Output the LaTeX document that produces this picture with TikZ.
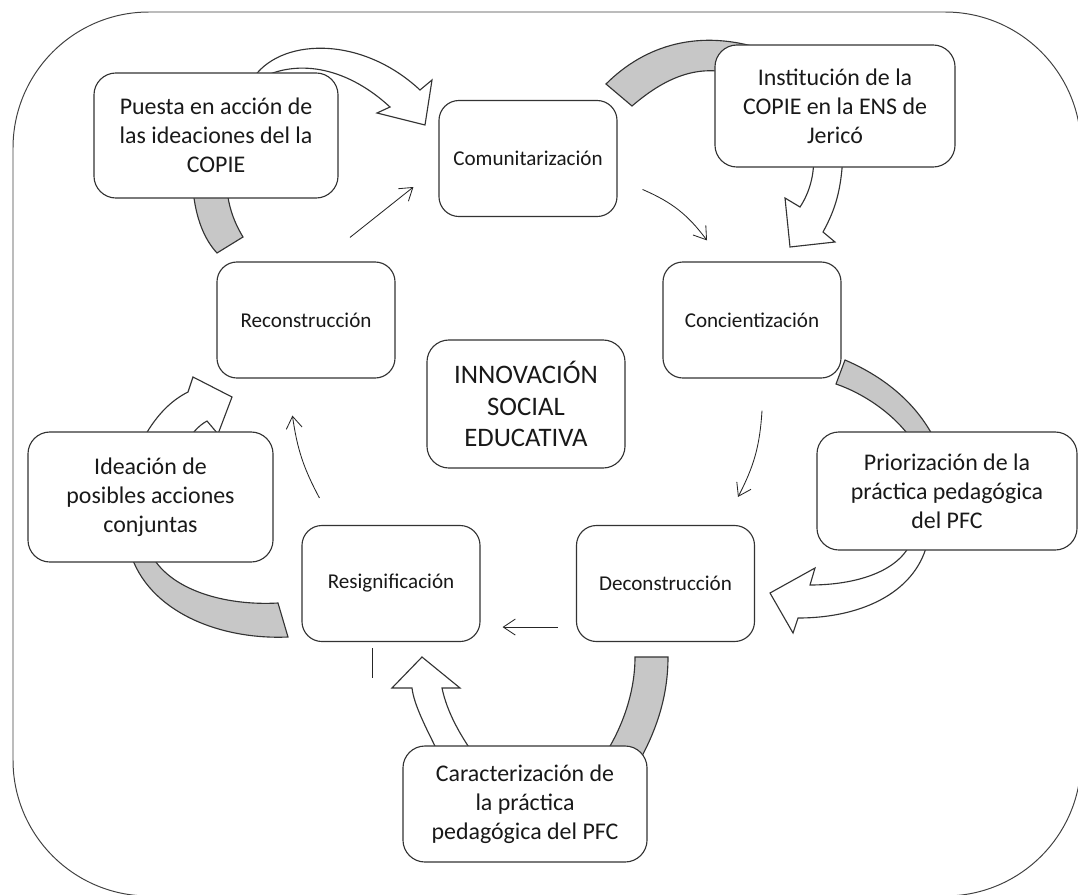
\documentclass[tikz,border=0pt]{standalone}
\usepackage{fontspec}
\setmainfont{Carlito}
\usepackage{tikz}
\usetikzlibrary{arrows.meta,calc}
\tikzset{stagebox/.style={draw=black!80, line width=0.8pt, rounded corners=0.5cm, fill=white, text=black!90, minimum width=4.45cm, minimum height=2.9cm, inner sep=0pt, font=\fontsize{15}{18}\selectfont}}
\tikzset{notebox/.style={draw=black!80, line width=0.8pt, rounded corners=0.55cm, fill=white, text=black!90, minimum width=6.1cm, minimum height=3.05cm, inner sep=0pt, align=center, font=\fontsize{17}{20.5}\selectfont}}
\tikzset{corebox/.style={draw=black!80, line width=0.8pt, rounded corners=0.55cm, fill=white, text=black!90, minimum width=4.95cm, minimum height=3.2cm, inner sep=0pt, align=center, font=\fontsize{19}{22.5}\selectfont}}
\tikzset{flow/.style={draw=black!85, line width=0.6pt, -{Straight Barb[length=3mm,width=4mm]}}}
\tikzset{bandback/.style={draw=black!80, line width=0.8pt, fill=black!22}}
\tikzset{bandfront/.style={draw=black!80, line width=0.8pt, fill=white}}

\begin{document}
\begin{tikzpicture}[x=0.025cm, y=-0.025cm]
	\useasboundingbox (0,0) rectangle (1078,894);
	\draw[black!75, line width=0.7pt, rounded corners=3.4cm] (13,12) rectangle (1081,896);
	%
	% curved block arrows, drawn behind the boxes
	\path[bandback] (193,190) .. controls (196,220) and (205,240) .. (217,253) -- (243,237)
		.. controls (234,222) and (229,208) .. (227,190) -- cycle;
	\path[bandfront] (252,80) .. controls (278,38) and (360,34) .. (420,90) -- (432,80) -- (425,125)
		-- (377,113) -- (390,107) .. controls (350,70) and (300,56) .. (257,80) -- cycle;
	\path[bandback] (606,84) .. controls (645,45) and (700,28) .. (765,50) -- (725,72)
		.. controls (690,66) and (660,82) .. (632,106) -- cycle;
	\path[bandfront] (813,150) .. controls (816,175) and (808,195) .. (800,207) -- (785,198) -- (790,247)
		-- (835,242) -- (823,232) .. controls (835,210) and (842,190) .. (843,150) -- cycle;
	\path[bandback] (845,360) .. controls (880,375) and (915,400) .. (935,440) -- (912,440)
		.. controls (895,415) and (865,394) .. (836,384) -- cycle;
	\path[bandfront] (912,540) .. controls (900,572) and (855,585) .. (810,585) -- (815,568) -- (770,593)
		-- (793,633) -- (798,618) .. controls (865,618) and (918,590) .. (928,540) -- cycle;
	\path[bandback] (635,657) -- (668,657) .. controls (668,690) and (660,722) .. (642,756) -- (604,756)
		.. controls (624,725) and (635,690) .. (635,657) -- cycle;
	\path[bandfront] (440,756) .. controls (426,728) and (414,705) .. (412,688) -- (392,688) -- (422,657)
		-- (460,688) -- (442,688) .. controls (447,712) and (460,735) .. (475,756) -- cycle;
	\path[bandback] (278,603) .. controls (225,606) and (168,590) .. (150,552) -- (130,552)
		.. controls (148,612) and (220,640) .. (288,637) -- cycle;
	\path[bandfront] (140,445) .. controls (155,415) and (172,400) .. (188,392) -- (193,377) -- (232,397)
		-- (218,434) -- (207,421) .. controls (198,426) and (191,434) .. (186,445) -- cycle;
	%
	% cycle stages
	\node[stagebox] (comm) at (528,158.5) {Comunitarización};
	\node[stagebox] (conc) at (752,320) {Concientización};
	\node[stagebox] (decon) at (665.5,583.5) {Deconstrucción};
	\node[stagebox] (resig) at (391,583.5) {Resignificación};
	\node[stagebox] (recon) at (306,320) {Reconstrucción};
	\node[corebox] (core) at (526,404) {INNOVACIÓN\\SOCIAL\\EDUCATIVA};
	%
	% outer notes
	\node[notebox, minimum height=3.125cm] (puesta) at (216,135.5) {Puesta en acción de\\las ideaciones del la\\COPIE};
	\node[notebox, minimum width=6cm] (instit) at (835,106) {Institución de la\\COPIE en la ENS de\\Jericó};
	\node[notebox, minimum width=6.5cm, minimum height=2.95cm] (prior) at (947,491) {Priorización de la\\práctica pedagógica\\del PFC};
	\node[notebox, minimum height=2.9cm] (carac) at (525,804) {Caracterización de\\la práctica\\pedagógica del PFC};
	\node[notebox, minimum width=6.125cm, minimum height=3.25cm] (idea) at (150.5,497) {Ideación de\\posibles acciones\\conjuntas};
	%
	\draw[flow] ([shift={(44,-24)}]recon.north) -- ([shift={(-25,28.5)}]comm.west);
	\draw[flow] ([shift={(25,31)}]comm.east) to[bend left=15] ([shift={(-45,-21)}]conc.north);
	\draw[flow] ([shift={(10,32)}]conc.south) to[bend left=12] ([shift={(72.5,-28)}]decon.north);
	\draw[flow] ([shift={(-18,-15)}]decon.south west) -- ([shift={(22,-15)}]resig.south east);
	\draw[flow] ([shift={(18,-27)}]resig.north west) to[bend left=10] ([shift={(76,37)}]recon.south west);
	\draw[black!85, line width=0.6pt] ([shift={(-19,6)}]resig.south) -- ++(0,30);
\end{tikzpicture}
\end{document}
